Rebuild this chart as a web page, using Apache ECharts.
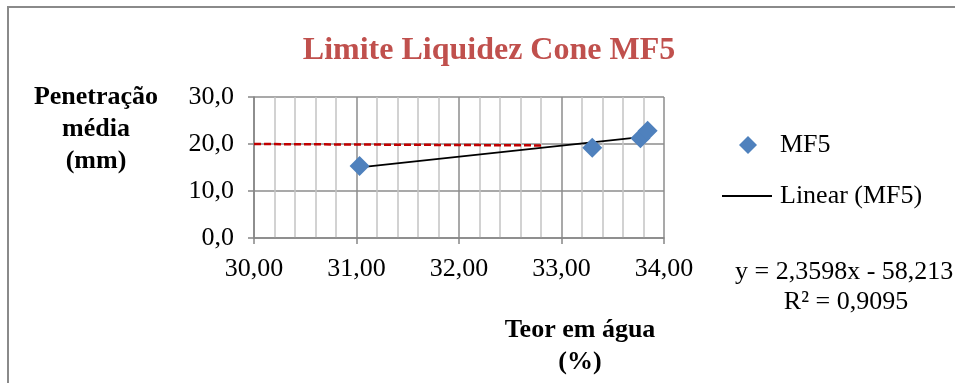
<!DOCTYPE html>
<html>
<head>
<meta charset="utf-8">
<script src="https://cdn.jsdelivr.net/npm/echarts@6/dist/echarts.min.js"></script>
<style>
html,body{margin:0;padding:0;background:#fff;}
#chart{width:955px;height:383px;}
</style>
</head>
<body>
<div id="chart"></div>
<script>
// ---- data ----
var titleText = 'Limite Liquidez Cone MF5';
var seriesName = 'MF5';
var trendName = 'Linear (MF5)';
var teorAgua = [31.03, 33.30, 33.77, 33.84];
var penetracao = [15.3, 19.2, 21.2, 22.8];
var trendSlope = [2.3598];
var trendIntercept = [-58.213];
var trendR2 = [0.9095];
var refX = [30.0, 32.8];
var refY = [20.0, 19.7];
var xTicks = [30, 31, 32, 33, 34];
var yTicks = [0, 10, 20, 30];
var yName = ['Penetração', 'média', '(mm)'];
var xName = ['Teor em água', '(%)'];

var FONT = '"Liberation Serif", "Times New Roman", serif';
var fmt = function (v, d) { return v.toFixed(d).replace('.', ','); };

var xMin = Math.min.apply(null, teorAgua), xMax = Math.max.apply(null, teorAgua);
var trendData = [xMin, xMax].map(function (x) { return [x, trendSlope[0] * x + trendIntercept[0]]; });
var eqText = 'y = ' + fmt(trendSlope[0], 4) + 'x - ' + fmt(Math.abs(trendIntercept[0]), 3);
var r2Text = 'R² = ' + fmt(trendR2[0], 4);

var chart = echarts.init(document.getElementById('chart'));
chart.setOption({
  animation: false,
  backgroundColor: '#fff',
  title: {
    text: titleText, left: 484, top: 30, textAlign: 'center',
    textStyle: { fontFamily: FONT, fontSize: 32, fontWeight: 'bold', color: '#C0504D' }
  },
  grid: { left: 254, right: 291, top: 97, bottom: 145 },
  legend: [
    {
      data: [{ name: seriesName, icon: 'diamond' }], left: 734, top: 127, orient: 'vertical',
      itemWidth: 18, itemHeight: 18,
      textStyle: { fontFamily: FONT, fontSize: 26, color: '#000', padding: [0, 0, 0, 18] }
    },
    {
      data: [{ name: trendName, icon: 'rect', itemStyle: { color: '#000' } }], left: 717, top: 178, orient: 'vertical',
      itemWidth: 50, itemHeight: 1.8,
      textStyle: { fontFamily: FONT, fontSize: 26, color: '#000', padding: [0, 0, 0, 3] }
    }
  ],
  xAxis: {
    type: 'value', min: xTicks[0], max: xTicks[xTicks.length - 1], interval: 1,
    axisLine: { show: true, onZero: false, lineStyle: { color: '#868686', width: 1.5 } },
    axisTick: { show: true, length: 6, lineStyle: { color: '#868686', width: 1.5 } },
    axisLabel: { margin: 18, fontFamily: FONT, fontSize: 26, color: '#000', formatter: function (v) { return fmt(v, 2); } },
    splitLine: { show: true, lineStyle: { color: '#8c8c8c', width: 1.5 } },
    minorTick: { show: false, splitNumber: 5 },
    minorSplitLine: { show: true, lineStyle: { color: '#c4c4c4', width: 1.5 } }
  },
  yAxis: {
    type: 'value', min: yTicks[0], max: yTicks[yTicks.length - 1], interval: 10,
    axisLine: { show: true, onZero: false, lineStyle: { color: '#868686', width: 1.5 } },
    axisTick: { show: true, length: 6, lineStyle: { color: '#868686', width: 1.5 } },
    axisLabel: { margin: 20, fontFamily: FONT, fontSize: 26, color: '#000', formatter: function (v) { return fmt(v, 1); } },
    splitLine: { show: true, lineStyle: { color: '#8c8c8c', width: 1.5 } }
  },
  series: [
    {
      name: 'ref', type: 'line', data: refX.map(function (x, i) { return [x, refY[i]]; }),
      symbol: 'none', lineStyle: { color: '#C00000', width: 2.5, type: [7, 3] }, z: 3, silent: true
    },
    {
      name: trendName, type: 'line', data: trendData, symbol: 'none', showSymbol: false,
      lineStyle: { color: '#000', width: 1.8 }, itemStyle: { color: '#000' }, z: 4
    },
    {
      name: seriesName, type: 'scatter', symbol: 'diamond', symbolSize: 20,
      data: teorAgua.map(function (x, i) { return [x, penetracao[i]]; }),
      itemStyle: { color: '#4F81BD', opacity: 1 }, z: 5
    }
  ],
  graphic: [
    { type: 'rect', shape: { x: 8, y: 7, width: 980, height: 420 }, style: { fill: 'none', stroke: '#8a8a8a', lineWidth: 2 }, silent: true },
    { type: 'text', x: 96, y: 81, style: { text: yName.join('\n'), font: 'bold 26px ' + FONT, fill: '#000', align: 'center', lineHeight: 32 } },
    { type: 'text', x: 580, y: 314, style: { text: xName.join('\n'), font: 'bold 26px ' + FONT, fill: '#000', align: 'center', lineHeight: 32 } },
    { type: 'text', x: 735, y: 272, style: { text: eqText, font: '26px ' + FONT, fill: '#000', align: 'left', verticalAlign: 'middle' } },
    { type: 'text', x: 846, y: 302, style: { text: r2Text, font: '26px ' + FONT, fill: '#000', align: 'center', verticalAlign: 'middle' } }
  ]
});
</script>
</body>
</html>
